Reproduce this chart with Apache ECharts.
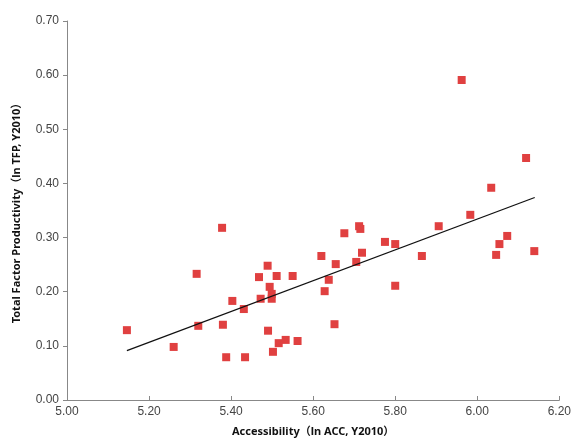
<!DOCTYPE html>
<html>
<head>
<meta charset="utf-8">
<script src="https://cdn.jsdelivr.net/npm/echarts@6/dist/echarts.min.js"></script>
<style>
html, body { margin: 0; padding: 0; background: #fff; }
#main { width: 574px; height: 442px; }
</style>
</head>
<body>
<div id="main"></div>
<script>
// accessibility (ln ACC) per city
var accX = [5.146, 5.260, 5.316, 5.320, 5.378, 5.380, 5.388, 5.403, 5.431, 5.434,
    5.468, 5.472, 5.489, 5.490, 5.494, 5.499, 5.499, 5.502, 5.511, 5.516,
    5.533, 5.550, 5.562, 5.620, 5.628, 5.638, 5.655, 5.652, 5.676, 5.705,
    5.712, 5.715, 5.719, 5.775, 5.800, 5.800, 5.865, 5.906, 5.983, 5.962,
    6.034, 6.046, 6.054, 6.073, 6.119, 6.139];
// total factor productivity (ln TFP)
var tfpY = [0.129, 0.098, 0.233, 0.137, 0.318, 0.139, 0.079, 0.183, 0.168, 0.079,
    0.227, 0.187, 0.248, 0.128, 0.209, 0.196, 0.187, 0.089, 0.229, 0.105,
    0.111, 0.229, 0.109, 0.266, 0.201, 0.222, 0.251, 0.140, 0.308, 0.255,
    0.321, 0.316, 0.272, 0.292, 0.288, 0.211, 0.266, 0.321, 0.342, 0.591,
    0.392, 0.268, 0.288, 0.303, 0.447, 0.275];
// fitted line end points
var trendX = [5.146, 6.140];
var trendY = [0.091, 0.374];

var chartDom = document.getElementById('main');
var myChart = echarts.init(chartDom);
var option;

var pts = accX.map(function (x, i) { return [x, tfpY[i]]; });
var line = trendX.map(function (x, i) { return [x, trendY[i]]; });

var titleFont = '"Noto Sans", "Noto Sans CJK SC", sans-serif';
var labelFont = '"Liberation Sans", Arial, sans-serif';

option = {
    animation: false,
    grid: {
        left: 67,
        right: 11,
        top: 21,
        bottom: 42
    },
    xAxis: {
        type: 'value',
        min: 5.0,
        max: 6.2,
        interval: 0.2,
        splitLine: { show: false },
        axisLine: { lineStyle: { color: '#888', width: 1 } },
        axisTick: { show: true, inside: true, length: 4, lineStyle: { color: '#888' } },
        axisLabel: {
            color: '#444',
            fontSize: 12,
            fontFamily: labelFont,
            margin: 6,
            formatter: function (v) { return v.toFixed(2); }
        },
        name: 'Accessibility（ln ACC, Y2010）',
        nameLocation: 'middle',
        nameGap: 26,
        nameTextStyle: {
            color: '#111',
            fontSize: 11,
            fontWeight: 'bold',
            fontFamily: titleFont
        }
    },
    yAxis: {
        type: 'value',
        min: 0,
        max: 0.7,
        interval: 0.1,
        splitLine: { show: false },
        axisLine: { show: true, lineStyle: { color: '#888', width: 1 } },
        axisTick: { show: true, length: 4, lineStyle: { color: '#888' } },
        axisLabel: {
            color: '#444',
            fontSize: 12,
            fontFamily: labelFont,
            margin: 8,
            formatter: function (v) { return v.toFixed(2); }
        },
        name: 'Total Factor Productivity（ln TFP, Y2010）',
        nameLocation: 'middle',
        nameGap: 45,
        nameTextStyle: {
            color: '#111',
            fontSize: 11,
            fontWeight: 'bold',
            fontFamily: titleFont
        }
    },
    series: [{
        type: 'scatter',
        data: pts,
        symbol: 'rect',
        symbolSize: 8,
        itemStyle: { color: '#e04040', opacity: 1 },
        z: 2
    }, {
        type: 'line',
        data: line,
        symbol: 'none',
        lineStyle: { color: '#111', width: 1.3 },
        z: 3
    }]
};
myChart.setOption(option);
</script>
</body>
</html>
